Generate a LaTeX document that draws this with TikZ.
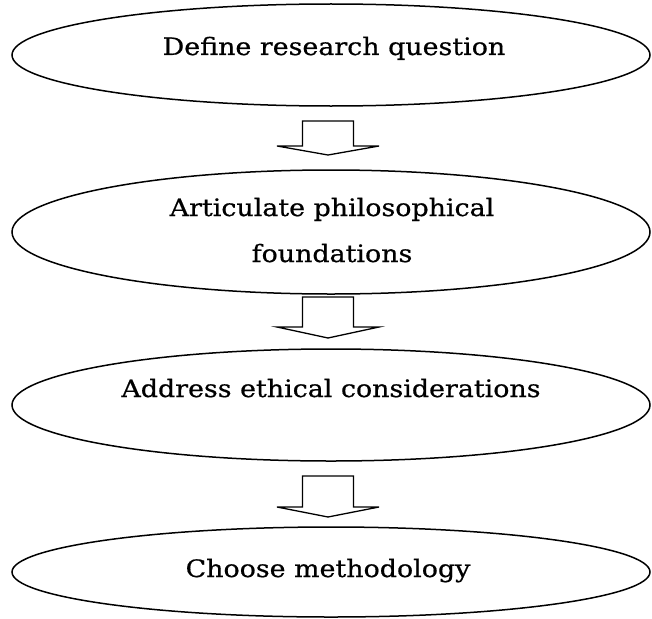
\documentclass[tikz,border=0pt]{standalone}
\usepackage{fontspec}
\setmainfont[FakeStretch=1.12, FakeBold=0.6]{DejaVu Serif}
\usetikzlibrary{shapes.geometric}

\tikzset{
  stage/.style={draw, ellipse, line width=1.5pt, inner sep=0pt,
                minimum width=638pt},
  caption/.style={font=\fontsize{24}{46}\selectfont, align=center,
                  anchor=base, inner sep=0pt},
  flowarrow/.style={draw, line width=1.3pt, line join=miter, fill=white}
}

% hollow block arrow: centre x, top y, shoulder y, tip y
\newcommand\blockarrow[4]{%
  \path[flowarrow] (#1-25.5,#2) -- (#1+25.5,#2) -- (#1+25.5,#3) -- (#1+51,#3)
    -- (#1,#4) -- (#1-51,#3) -- (#1-25.5,#3) -- cycle;}

\begin{document}
\begin{tikzpicture}[x=1pt, y=-1pt]
  \useasboundingbox (0,0) rectangle (652,618);

  % the four stages
  \node[stage, minimum height=102pt] (s1) at (331,55)  {};
  \node[stage, minimum height=124pt] (s2) at (331,232) {};
  \node[stage, minimum height=112pt] (s3) at (331,405) {};
  \node[stage, minimum height=90pt]  (s4) at (331,572) {};

  % captions (a two-line caption sits on the baseline of its last line)
  \node[caption] (t1) at (334,55)  {Define research question};
  \node[caption] (t2) at (332,262) {Articulate philosophical\\foundations};
  \node[caption] (t3) at (331,397) {Address ethical considerations};
  \node[caption] (t4) at (328,577) {Choose methodology};

  % block arrows between the stages
  \blockarrow{328}{121}{146}{155}
  \blockarrow{328}{297}{327}{338}
  \blockarrow{328}{476}{507}{517}
\end{tikzpicture}
\end{document}
